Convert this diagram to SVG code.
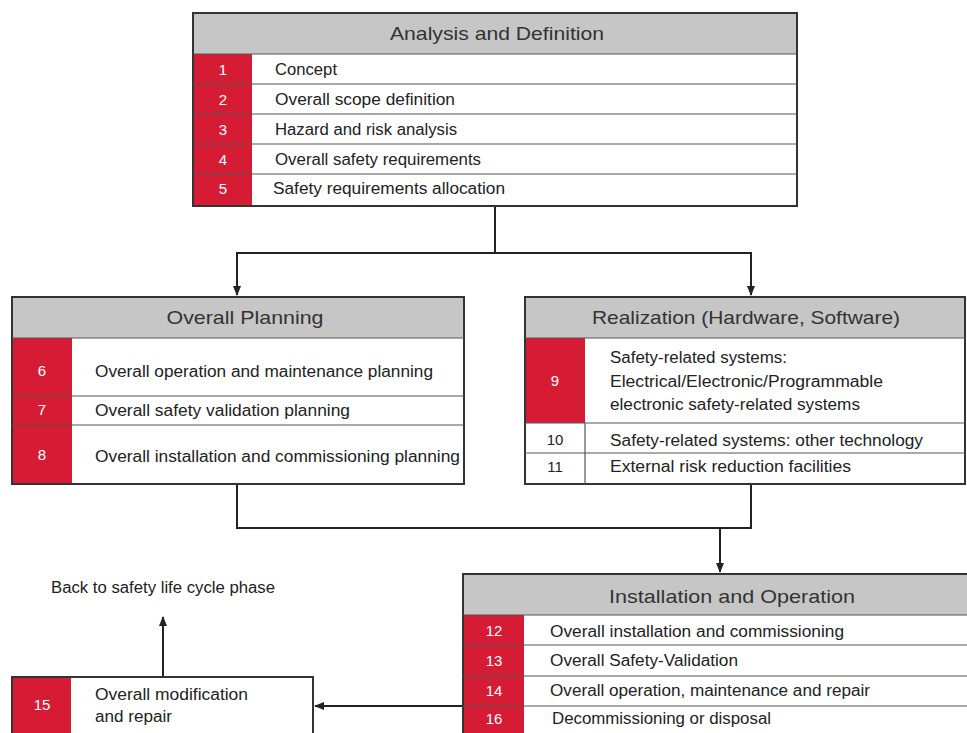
<svg xmlns="http://www.w3.org/2000/svg" width="967" height="733" viewBox="0 0 967 733">
<defs>
<marker id="ah" markerWidth="10" markerHeight="10" refX="9" refY="5" orient="auto" markerUnits="userSpaceOnUse">
<path d="M0,1 L10,5 L0,9 Z" fill="#222"/>
</marker>
<style>
.box{fill:#fff;stroke:#333;stroke-width:2}
.hdr{fill:#c6c6c6}
.red{fill:#d61c35}
.sep{stroke:#555;stroke-width:1.2}
.ht{font-family:"Liberation Sans",Arial,sans-serif;font-size:19px;fill:#333;text-anchor:middle}
.t{font-family:"Liberation Sans",Arial,sans-serif;font-size:16px;fill:#222}
.n{font-family:"Liberation Sans",Arial,sans-serif;font-size:15px;fill:#fff;text-anchor:middle}
.nd{font-family:"Liberation Sans",Arial,sans-serif;font-size:15px;fill:#222;text-anchor:middle}
.con{fill:none;stroke:#222;stroke-width:2}
</style>
</defs>
<rect width="967" height="733" fill="#fff"/>

<g id="connectors">
<path class="con" d="M495,206 V253 H237 V295" marker-end="url(#ah)"/>
<path class="con" d="M495,253 H751 V295" marker-end="url(#ah)"/>
<path class="con" d="M237,484 V528 H751 V484"/>
<path class="con" d="M720,528 V572" marker-end="url(#ah)"/>
<path class="con" d="M463,706 H315" marker-end="url(#ah)"/>
<path class="con" d="M163,677 V617" marker-end="url(#ah)"/>
</g>

<g id="analysis">
<rect class="box" x="193" y="13" width="604" height="193"/>
<rect class="hdr" x="194" y="14" width="602" height="40"/>
<rect class="red" x="194" y="54" width="58" height="151"/>
<line class="sep" x1="193" y1="54" x2="797" y2="54"/>
<line class="sep" x1="193" y1="84" x2="797" y2="84"/>
<line class="sep" x1="193" y1="114" x2="797" y2="114"/>
<line class="sep" x1="193" y1="144" x2="797" y2="144"/>
<line class="sep" x1="193" y1="174" x2="797" y2="174"/>
<text class="ht" x="497" y="40" textLength="214" lengthAdjust="spacingAndGlyphs">Analysis and Definition</text>
<text class="n" x="223" y="75">1</text>
<text class="n" x="223" y="105">2</text>
<text class="n" x="223" y="135">3</text>
<text class="n" x="223" y="165">4</text>
<text class="n" x="223" y="194">5</text>
<text class="t" x="275" y="75" textLength="62" lengthAdjust="spacingAndGlyphs">Concept</text>
<text class="t" x="275" y="105" textLength="180" lengthAdjust="spacingAndGlyphs">Overall scope definition</text>
<text class="t" x="275" y="135" textLength="182" lengthAdjust="spacingAndGlyphs">Hazard and risk analysis</text>
<text class="t" x="275" y="165" textLength="206" lengthAdjust="spacingAndGlyphs">Overall safety requirements</text>
<text class="t" x="273" y="194" textLength="232" lengthAdjust="spacingAndGlyphs">Safety requirements allocation</text>
</g>

<g id="planning">
<rect class="box" x="12" y="297" width="452" height="187"/>
<rect class="hdr" x="13" y="298" width="450" height="40"/>
<rect class="red" x="13" y="338" width="59" height="145"/>
<line class="sep" x1="12" y1="338" x2="464" y2="338"/>
<line class="sep" x1="12" y1="396" x2="464" y2="396"/>
<line class="sep" x1="12" y1="425" x2="464" y2="425"/>
<text class="ht" x="245" y="324" textLength="157" lengthAdjust="spacingAndGlyphs">Overall  Planning</text>
<text class="n" x="42" y="376">6</text>
<text class="n" x="42" y="415">7</text>
<text class="n" x="42" y="460">8</text>
<text class="t" x="95" y="377" textLength="338" lengthAdjust="spacingAndGlyphs">Overall operation and maintenance planning</text>
<text class="t" x="95" y="416" textLength="255" lengthAdjust="spacingAndGlyphs">Overall safety validation planning</text>
<text class="t" x="95" y="462" textLength="365" lengthAdjust="spacingAndGlyphs">Overall installation and commissioning planning</text>
</g>

<g id="realization">
<rect class="box" x="525" y="297" width="440" height="187"/>
<rect class="hdr" x="526" y="298" width="438" height="40"/>
<rect class="red" x="526" y="338" width="59" height="85"/>
<line class="sep" x1="525" y1="338" x2="965" y2="338"/>
<line class="sep" x1="525" y1="423" x2="965" y2="423"/>
<line class="sep" x1="525" y1="453" x2="965" y2="453"/>
<line class="sep" x1="585" y1="423" x2="585" y2="484"/>
<text class="ht" x="746" y="324" textLength="308" lengthAdjust="spacingAndGlyphs">Realization (Hardware, Software)</text>
<text class="n" x="555" y="386">9</text>
<text class="nd" x="555" y="445">10</text>
<text class="nd" x="555" y="472">11</text>
<text class="t" x="610" y="363" textLength="177" lengthAdjust="spacingAndGlyphs">Safety-related systems:</text>
<text class="t" x="610" y="387" textLength="273" lengthAdjust="spacingAndGlyphs">Electrical/Electronic/Programmable</text>
<text class="t" x="610" y="410" textLength="250" lengthAdjust="spacingAndGlyphs">electronic safety-related systems</text>
<text class="t" x="610" y="446" textLength="313" lengthAdjust="spacingAndGlyphs">Safety-related systems: other technology</text>
<text class="t" x="610" y="472" textLength="241" lengthAdjust="spacingAndGlyphs">External risk reduction facilities</text>
</g>

<g id="installation">
<rect class="box" x="463" y="574" width="510" height="170"/>
<rect class="hdr" x="464" y="575" width="508" height="40"/>
<rect class="red" x="464" y="615" width="60" height="118"/>
<line class="sep" x1="463" y1="615" x2="967" y2="615"/>
<line class="sep" x1="463" y1="645" x2="967" y2="645"/>
<line class="sep" x1="463" y1="676" x2="967" y2="676"/>
<line class="sep" x1="463" y1="706" x2="967" y2="706"/>
<text class="ht" x="732" y="603" textLength="246" lengthAdjust="spacingAndGlyphs">Installation and Operation</text>
<text class="n" x="494" y="636">12</text>
<text class="n" x="494" y="666">13</text>
<text class="n" x="494" y="696">14</text>
<text class="n" x="494" y="724">16</text>
<text class="t" x="550" y="637" textLength="294" lengthAdjust="spacingAndGlyphs">Overall installation and commissioning</text>
<text class="t" x="550" y="666" textLength="188" lengthAdjust="spacingAndGlyphs">Overall Safety-Validation</text>
<text class="t" x="550" y="696" textLength="320" lengthAdjust="spacingAndGlyphs">Overall operation, maintenance and repair</text>
<text class="t" x="552" y="724" textLength="219" lengthAdjust="spacingAndGlyphs">Decommissioning or disposal</text>
</g>

<g id="modification">
<rect class="box" x="12" y="677" width="301" height="70"/>
<rect class="red" x="13" y="678" width="58" height="55"/>
<text class="n" x="42" y="710">15</text>
<text class="t" x="95" y="700" textLength="153" lengthAdjust="spacingAndGlyphs">Overall modification</text>
<text class="t" x="95" y="722" textLength="77" lengthAdjust="spacingAndGlyphs">and repair</text>
</g>

<g id="back-label">
<text class="t" x="51" y="593" textLength="224" lengthAdjust="spacingAndGlyphs" fill="#333">Back to safety life cycle phase</text>
</g>
</svg>
